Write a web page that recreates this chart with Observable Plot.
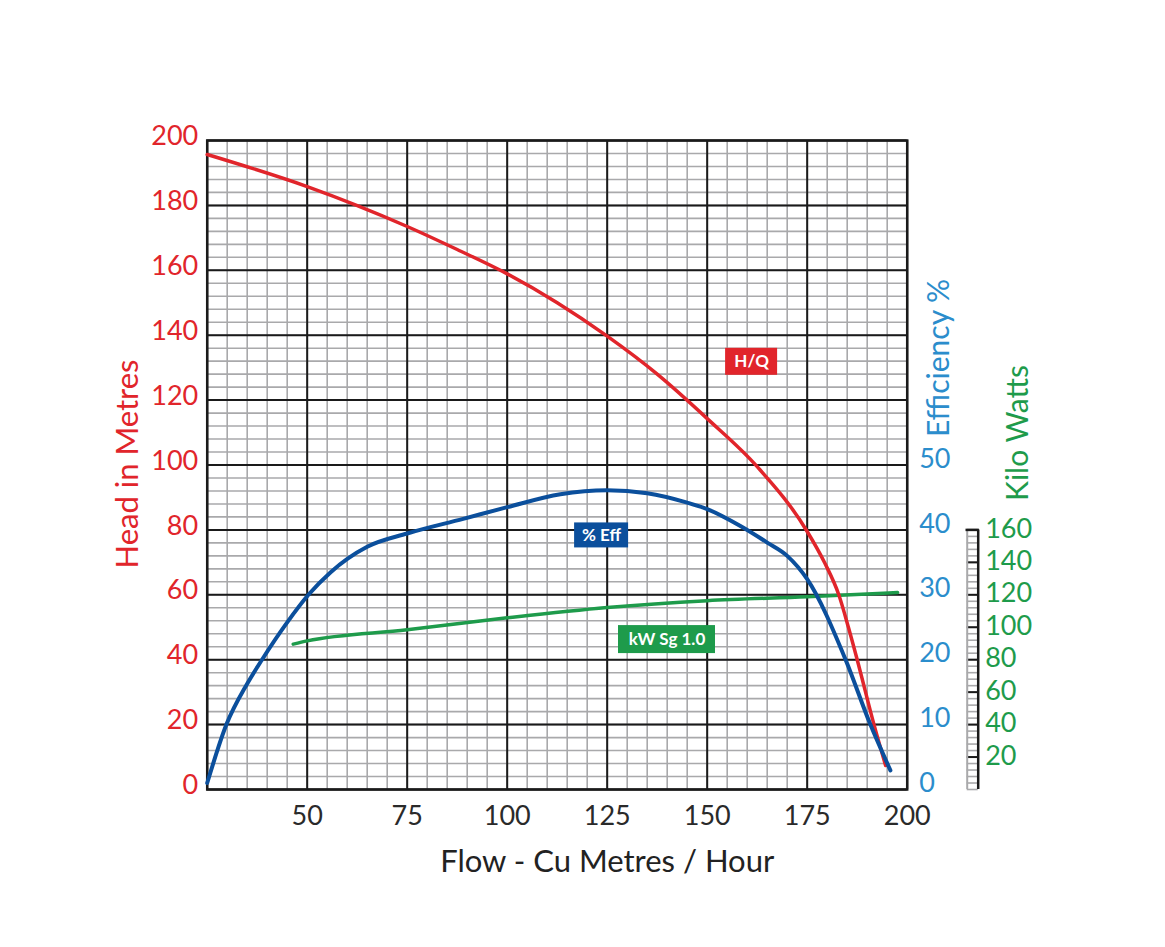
<!DOCTYPE html>
<html>
<head>
<meta charset="utf-8">
<script src="https://cdn.jsdelivr.net/npm/d3@7"></script>
<script src="https://cdn.jsdelivr.net/npm/@observablehq/plot@0.6"></script>
<style>
  html, body { margin: 0; padding: 0; background: #fff; }
  #chart svg { display: block; }
</style>
</head>
<body>
<div id="chart"></div>
<script>
// ---- Data ----
// H/Q curve: flow (m³/h) vs head (m)
const hqFlow = [25, 50, 75, 87.5, 100, 112.5, 125, 137.5, 150, 162.5, 175, 179.3, 182.9, 185.3, 187.5, 191.7, 194.6];
const hqHead = [195.7, 185.8, 173.5, 166.4, 158.9, 150, 139.7, 128, 114.3, 99.5, 79.5, 70, 60, 50, 40, 20, 7.4];

// Efficiency curve: flow vs efficiency %
const effFlow = [25, 29.8, 35, 38.7, 45, 50.3, 55.8, 65, 75, 89, 100, 113.3, 125, 135, 145, 150, 158.3, 165, 170, 175, 184.6, 190.8, 195.8];
const effPct  = [1, 10, 16.3, 20, 25.75, 30, 33.45, 37.4, 39.45, 41.7, 43.5, 45.5, 46.1, 45.65, 44.2, 43.2, 40.6, 38.05, 36, 32.4, 20, 10, 2.95];

// Power curve: flow vs kW (Sg 1.0)
const kwFlow = [46.5, 50, 75, 100, 125, 150, 175, 197.6];
const kwVal  = [89.6, 91.6, 98.4, 105.8, 112.2, 116.4, 118.8, 121.4];

// Tick labels
const flowTicks = [50, 75, 100, 125, 150, 175, 200];
const headTicks = [0, 20, 40, 60, 80, 100, 120, 140, 160, 180, 200];
const effTicks  = [0, 10, 20, 30, 40, 50];
const kwTicks   = [20, 40, 60, 80, 100, 120, 140, 160];

// Curve labels (text, flow, head at label centre)
const labelText = ["H/Q", "% Eff", "kW Sg 1.0"];
const labelFlow = [161.1, 123.6, 139.95];
const labelHead = [131.8, 78.3, 46.2];

// ---- Scale relations of the secondary axes (to head units) ----
const effToHead = e => e * 2;    // 50 % ↔ 100 m
const kwToHead  = k => k / 2;    // 160 kW ↔ 80 m

const RED = "#e1252b", BLUE = "#0b4f9c", LBLUE = "#2b8dcc", GREEN = "#1e9b4b";
const GRID = "#a9a9ab", DARK = "#1a1a1a";

const hq  = hqFlow.map((q, i) => ({q, h: hqHead[i]}));
const eff = effFlow.map((q, i) => ({q, e: effPct[i]}));
const kw  = kwFlow.map((q, i) => ({q, k: kwVal[i]}));
const labels = labelText.map((t, i) => ({t, q: labelFlow[i], h: labelHead[i]}));
const labelColors = [RED, BLUE, GREEN];
const labelW = [52, 54, 97];
const labelH = [27, 25, 28];

const minorX = d3.range(25, 200.01, 5);
const majorX = d3.range(25, 200.01, 25);
const minorY = d3.range(0, 200.01, 4);
const majorY = d3.range(0, 200.01, 20);
const rulerMinor = d3.range(0, 160.01, 4);
const rulerMajor = d3.range(20, 160.01, 20);

const chart = Plot.plot({
  width: 1165,
  height: 947,
  marginLeft: 206.7,
  marginRight: 258.3,
  marginTop: 140,
  marginBottom: 158,
  style: {fontFamily: "Lato, 'Open Sans', sans-serif", fontSize: "27px", background: "#fff"},
  x: {domain: [25, 200]},
  y: {domain: [0, 200]},
  marks: [
    // grid
    Plot.ruleX(minorX, {stroke: GRID, strokeWidth: 1.6}),
    Plot.ruleY(minorY, {stroke: GRID, strokeWidth: 1.6}),
    Plot.ruleX(majorX, {stroke: DARK, strokeWidth: 2}),
    Plot.ruleY(majorY, {stroke: DARK, strokeWidth: 2}),
    Plot.frame({stroke: DARK, strokeWidth: 2.5}),

    // axes
    Plot.axisY({ticks: headTicks, tickSize: 0, tickPadding: 9, dy: -4, fill: RED, fontSize: 27, label: null, tickFormat: d => String(d)}),
    Plot.axisX({ticks: flowTicks, tickSize: 0, tickPadding: 16, fill: "#2a2a2a", fontSize: 27, label: null, tickFormat: d => String(d)}),

    // efficiency axis (right)
    Plot.text(effTicks, {y: d => effToHead(d), frameAnchor: "right", dx: 12, dy: -6, textAnchor: "start", text: d => String(d), fill: LBLUE, fontSize: 27}),

    // kW ruler
    Plot.tickY(rulerMinor, {y: d => kwToHead(d), insetLeft: 760, insetRight: -71, stroke: GRID, strokeWidth: 1.6}),
    Plot.tickY(rulerMajor, {y: d => kwToHead(d), insetLeft: 760, insetRight: -71, stroke: DARK, strokeWidth: 2}),
    Plot.ruleX([200], {y1: 0, y2: kwToHead(160), dx: 60, stroke: GRID, strokeWidth: 2}),
    Plot.ruleX([200], {y1: 0, y2: kwToHead(160), dx: 71, stroke: DARK, strokeWidth: 2.5}),
    Plot.tickY([160], {y: d => kwToHead(d), insetLeft: 758.8, insetRight: -72.2, stroke: DARK, strokeWidth: 2.5}),
    Plot.text(kwTicks, {y: d => kwToHead(d), frameAnchor: "right", dx: 78, dy: -1, textAnchor: "start", text: d => String(d), fill: GREEN, fontSize: 27}),

    // curves
    Plot.line(kw, {x: "q", y: d => kwToHead(d.k), stroke: GREEN, strokeWidth: 3.5, curve: "monotone-x"}),
    Plot.line(hq, {x: "q", y: "h", stroke: RED, strokeWidth: 3.5, curve: "monotone-x"}),
    Plot.line(eff, {x: "q", y: d => effToHead(d.e), stroke: BLUE, strokeWidth: 4, curve: "monotone-x"}),

    // curve labels
    ...labels.map((d, i) => Plot.rect([d], {
      x1: "q", x2: "q", y1: "h", y2: "h",
      insetLeft: -labelW[i] / 2, insetRight: -labelW[i] / 2,
      insetTop: -labelH[i] / 2, insetBottom: -labelH[i] / 2,
      fill: labelColors[i]
    })),
    Plot.text(labels, {x: "q", y: "h", text: "t", fill: "#fff", fontSize: 17, fontWeight: "bold"}),

    // axis titles
    Plot.text(["Head in Metres"], {frameAnchor: "left", textAnchor: "middle", dx: -79, dy: -1, rotate: -90, text: d => d, fill: RED, fontSize: 31}),
    Plot.text(["Efficiency %"], {frameAnchor: "right", textAnchor: "middle", dx: 32, dy: -107, rotate: -90, text: d => d, fill: LBLUE, fontSize: 30}),
    Plot.text(["Kilo Watts"], {frameAnchor: "right", textAnchor: "middle", dx: 111, dy: -32, rotate: -90, text: d => d, fill: GREEN, fontSize: 30}),
    Plot.text(["Flow - Cu Metres / Hour"], {frameAnchor: "bottom", textAnchor: "middle", dx: 50, dy: 82, text: d => d, fill: "#222", fontSize: 31})
  ]
});

document.getElementById("chart").appendChild(chart);
</script>
</body>
</html>
